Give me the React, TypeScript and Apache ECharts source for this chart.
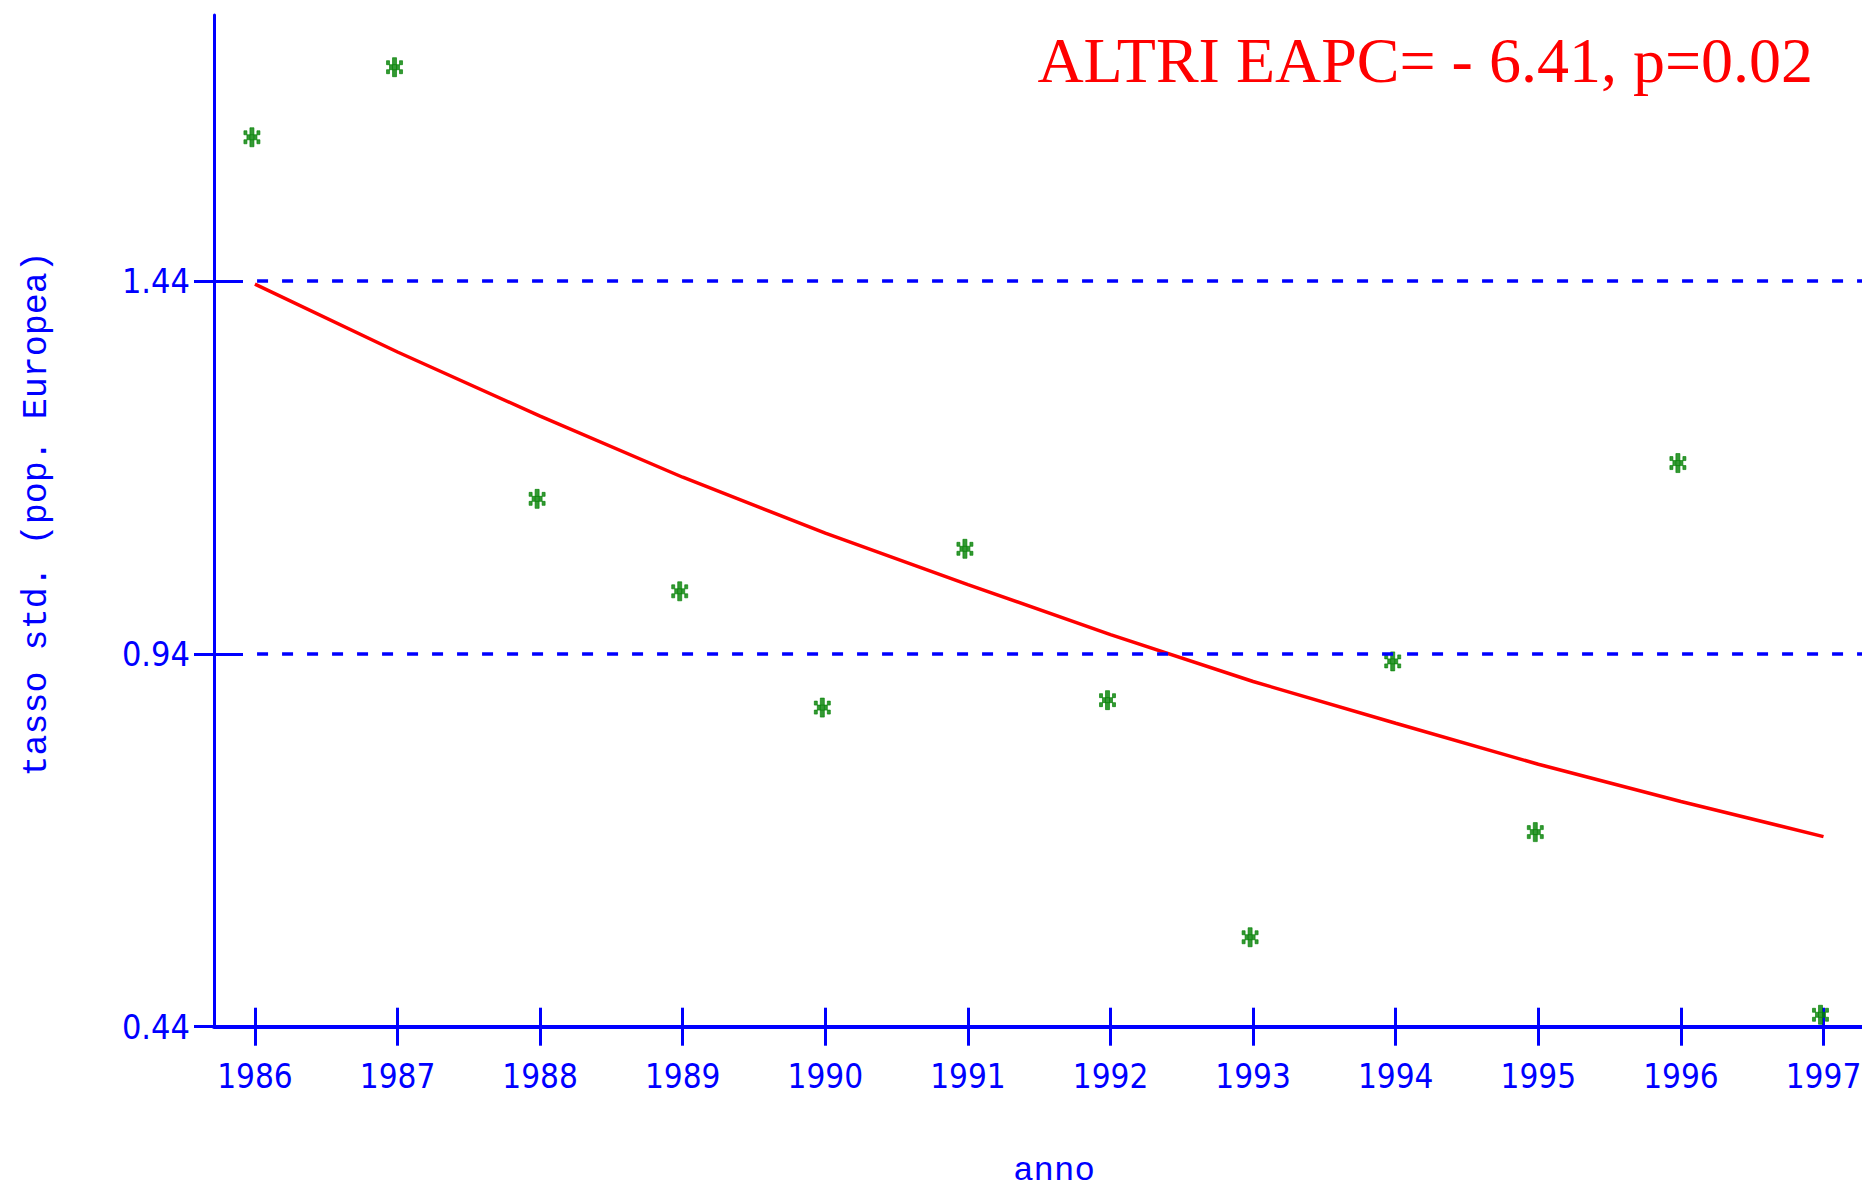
import React, { useEffect, useRef } from "react";
import * as echarts from "echarts";

// ---- data ----
const years = [1986, 1987, 1988, 1989, 1990, 1991, 1992, 1993, 1994, 1995, 1996, 1997];
const observedRates = [1.633, 1.727, 1.148, 1.024, 0.868, 1.081, 0.878, 0.56, 0.93, 0.701, 1.196, 0.456];
const fittedRates = [1.436, 1.345, 1.259, 1.177, 1.102, 1.033, 0.966, 0.903, 0.847, 0.792, 0.742, 0.695];
const yTickValues = [0.44, 0.94, 1.44];
const yInnerTickValues = [0.94, 1.44];
const referenceLevels = [0.94, 1.44];
const titleText = "ALTRI EAPC= - 6.41, p=0.02";
const xAxisTitle = "anno";
const yAxisTitle = "tasso std. (pop. Europea)";

// ---- axis extents ----
const X_MIN = 1985.713;
const X_MAX = 1997.27;
const Y_MIN = 0.44;
const Y_MAX = 1.797;
const REF_START = 1986.015;

// ---- styles ----
const BLUE = "#0000ff";
const RED = "#ff0000";
const GREEN = "#008000";
const NARROW = "'Liberation Sans Narrow','DejaVu Sans Condensed','Liberation Sans',sans-serif";
const MONO = "'Liberation Mono','DejaVu Sans Mono',monospace";
const SERIF = "'Liberation Serif','Times New Roman',serif";
const ASTERISK =
  "path://M6 0H10V19H6Z M3 7H13V12H3Z M0 3H3V7H0Z M13 3H16V7H13Z M0 12H3V16H0Z M13 12H16V16H13Z";

export default function App() {
  const ref = useRef<HTMLDivElement>(null);

  useEffect(() => {
    if (!ref.current) return;
    const chart = echarts.init(ref.current, null, { renderer: "svg" });
    const tickLine = { color: BLUE, width: 3 };
    chart.setOption({
      animation: false,
      backgroundColor: "#ffffff",
      title: {
        text: titleText,
        right: 49,
        top: 28,
        padding: 0,
        textStyle: { color: RED, fontFamily: SERIF, fontSize: 64, fontWeight: "normal" },
      },
      grid: { left: 214, top: 15, right: 0, bottom: 162.3, containLabel: false, outerBoundsMode: "none" },
      xAxis: [
        {
          type: "value",
          min: X_MIN,
          max: X_MAX,
          position: "bottom",
          name: xAxisTitle,
          nameLocation: "middle",
          nameGap: 131,
          nameTextStyle: { color: BLUE, fontFamily: MONO, fontSize: 34, lineHeight: 26, padding: [0, 0, 0, 32] },
          axisLine: { show: true, onZero: false, lineStyle: { color: BLUE, width: 4 } },
          axisTick: { show: true, customValues: years, length: 19, inside: false, lineStyle: tickLine },
          axisLabel: {
            customValues: years,
            margin: 33,
            color: BLUE,
            fontFamily: NARROW,
            fontSize: 33,
            formatter: (v: number) => String(Math.round(v)),
          },
          splitLine: { show: false },
        },
        {
          type: "value",
          min: X_MIN,
          max: X_MAX,
          position: "bottom",
          axisLine: { show: false, onZero: false },
          axisTick: { show: true, customValues: years, length: 19, inside: true, lineStyle: tickLine },
          axisLabel: { show: false },
          splitLine: { show: false },
        },
      ],
      yAxis: [
        {
          type: "value",
          min: Y_MIN,
          max: Y_MAX,
          position: "left",
          name: yAxisTitle,
          nameLocation: "middle",
          nameGap: 160,
          nameTextStyle: { color: BLUE, fontFamily: MONO, fontSize: 35, padding: [0, 0, 0, 14] },
          axisLine: { show: true, onZero: false, lineStyle: { color: BLUE, width: 3 } },
          axisTick: { show: true, customValues: yTickValues, length: 20, inside: false, lineStyle: tickLine },
          axisLabel: {
            customValues: yTickValues,
            margin: 24,
            color: BLUE,
            fontFamily: NARROW,
            fontSize: 34,
            formatter: (v: number) => v.toFixed(2),
          },
          splitLine: { show: false },
        },
        {
          type: "value",
          min: Y_MIN,
          max: Y_MAX,
          position: "left",
          axisLine: { show: false, onZero: false },
          axisTick: { show: true, customValues: yInnerTickValues, length: 29, inside: true, lineStyle: tickLine },
          axisLabel: { show: false },
          splitLine: { show: false },
        },
      ],
      series: [
        {
          name: "riferimenti",
          type: "line",
          data: [],
          z: 1,
          silent: true,
          markLine: {
            silent: true,
            symbol: ["none", "none"],
            label: { show: false },
            lineStyle: { color: BLUE, width: 3.5, type: [11, 14] },
            data: referenceLevels.map((v) => [{ coord: [REF_START, v] }, { coord: [X_MAX, v] }]),
          },
        },
        {
          name: "EAPC",
          type: "line",
          data: years.map((y, i) => [y, fittedRates[i]]),
          showSymbol: false,
          symbol: "none",
          lineStyle: { color: RED, width: 3.5 },
          z: 3,
        },
        {
          name: "tasso",
          type: "scatter",
          data: years.map((y, i) => [y, observedRates[i]]),
          symbol: ASTERISK,
          symbolSize: [16, 19],
          symbolOffset: [-3, 0],
          itemStyle: { color: GREEN, borderColor: GREEN, borderWidth: 0.8 },
          z: 4,
        },
      ],
    });
    return () => chart.dispose();
  }, []);

  return (
    <div
      ref={ref}
      style={{ position: "absolute", left: 0, top: 0, width: 1862, height: 1189, background: "#fff" }}
    />
  );
}
